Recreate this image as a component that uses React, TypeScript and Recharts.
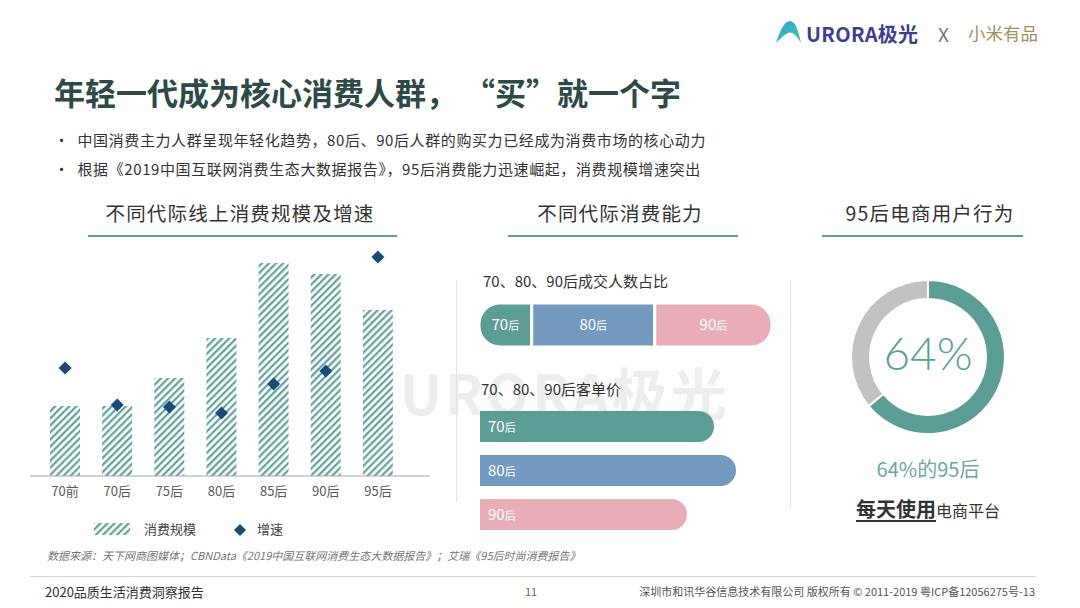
import React from 'react';
import {
  ComposedChart,
  Bar,
  Scatter,
  XAxis,
  YAxis,
  BarChart,
  Cell,
  LabelList,
  PieChart,
  Pie,
} from 'recharts';

// 线上消费规模及增速（按代际）
const generations = ['70前', '70后', '75后', '80后', '85后', '90后', '95后'];
const scaleValues = [70, 70, 98, 138, 213, 202, 166];
const growthValues = [108, 71, 69, 63, 92, 105, 219];

// 成交人数占比
const dealShare70 = [18];
const dealShare80 = [42];
const dealShare90 = [40];

// 客单价
const priceGroups = ['70', '80', '90'];
const priceValues = [234, 256, 207];

// 95后每天使用电商平台
const dailyUseLabels = ['每天使用', '其他'];
const dailyUseValues = [64, 36];

const TEAL = '#5c9e96';
const BLUE = '#7399bf';
const PINK = '#e8adb6';
const NAVY = '#1b4a78';
const FONT = '"Noto Sans CJK SC", "Noto Sans", sans-serif';

const genData = generations.map((g, i) => ({ name: g, scale: scaleValues[i], speed: growthValues[i] }));
const dealData = [{ name: 'share', a: dealShare70[0], b: dealShare80[0], c: dealShare90[0] }];
const priceData = priceGroups.map((g, i) => ({ name: g, value: priceValues[i] }));
const priceColors = [TEAL, BLUE, PINK];
const pieData = dailyUseLabels.map((l, i) => ({ name: l, value: dailyUseValues[i] }));

function Diamond(props: any) {
  const { cx, cy } = props;
  const s = 6.5;
  return <polygon points={`${cx},${cy - s} ${cx + s},${cy} ${cx},${cy + s} ${cx - s},${cy}`} fill={NAVY} />;
}

// "70后" style label, big number and small 后
function GenLabel(props: any, text: string, align: 'middle' | 'start') {
  const { x, y, width, height } = props;
  const tx = align === 'middle' ? x + width / 2 : x + 8;
  return (
    <text x={tx} y={y + height / 2} dy={5} textAnchor={align} fill="#fff" fontFamily={FONT}>
      <tspan fontSize={15}>{text}</tspan>
      <tspan fontSize={11}>后</tspan>
    </text>
  );
}

function SectionTitle({ text, cx, lineLeft, lineRight }: { text: string; cx: number; lineLeft: number; lineRight: number }) {
  return (
    <>
      <div style={{ position: 'absolute', left: cx - 200, width: 400, top: 198, textAlign: 'center', fontSize: 19.5, color: '#333', letterSpacing: 1.2 }}>
        {text}
      </div>
      <div style={{ position: 'absolute', left: lineLeft, width: lineRight - lineLeft, top: 235, height: 2, background: '#5f9f98' }} />
    </>
  );
}

export default function App() {
  return (
    <div style={{ position: 'absolute', left: 0, top: 0, width: 1080, height: 608, background: '#fff', fontFamily: FONT, overflow: 'hidden' }}>
      {/* header logos */}
      <svg style={{ position: 'absolute', left: 774, top: 19 }} width={28} height={26}>
        <defs>
          <linearGradient id="logoGrad" x1="0" y1="0" x2="1" y2="1">
            <stop offset="0%" stopColor="#3aa6e0" />
            <stop offset="100%" stopColor="#3cc6a0" />
          </linearGradient>
        </defs>
        <path d="M2 24 C6 12 10 2 16 2 C22 2 25 14 27 24 C22 16 18 12 14 14 C10 16 6 20 2 24 Z" fill="url(#logoGrad)" />
      </svg>
      <div style={{ position: 'absolute', left: 806, top: 19, fontSize: 20, fontWeight: 700, color: '#3d3f8e', letterSpacing: 0.3 }}>URORA极光</div>
      <div style={{ position: 'absolute', left: 938, top: 20, fontSize: 19, color: '#777' }}>X</div>
      <div style={{ position: 'absolute', left: 968, top: 20, fontSize: 17.5, color: '#a58e63' }}>小米有品</div>

      {/* title + bullets */}
      <div style={{ position: 'absolute', left: 54, top: 69, fontSize: 31, fontWeight: 700, color: '#2e4a47', letterSpacing: 0 }}>
        年轻一代成为核心消费人群， “买”就一个字
      </div>
      <div style={{ position: 'absolute', left: 54, top: 125, fontSize: 15, color: '#333', lineHeight: '29px', letterSpacing: 0.6 }}>
        <div>•&nbsp;&nbsp;中国消费主力人群呈现年轻化趋势，80后、90后人群的购买力已经成为消费市场的核心动力</div>
        <div>•&nbsp;&nbsp;根据《2019中国互联网消费生态大数据报告》，95后消费能力迅速崛起，消费规模增速突出</div>
      </div>

      <SectionTitle text="不同代际线上消费规模及增速" cx={240} lineLeft={88} lineRight={397} />
      <SectionTitle text="不同代际消费能力" cx={620} lineLeft={508} lineRight={738} />
      <SectionTitle text="95后电商用户行为" cx={930} lineLeft={822} lineRight={1023} />

      {/* watermark */}
      <div style={{ position: 'absolute', left: 400, top: 350, fontSize: 56, fontWeight: 700, color: '#eeeeee', letterSpacing: 3 }}>
        URORA极光
      </div>

      {/* separators */}
      <div style={{ position: 'absolute', left: 456, top: 280, width: 1, height: 222, background: '#e3e3e3' }} />
      <div style={{ position: 'absolute', left: 790, top: 280, width: 1, height: 228, background: '#e3e3e3' }} />

      {/* left chart */}
      <div style={{ position: 'absolute', left: 30, top: 246 }}>
        <ComposedChart width={400} height={262} data={genData} margin={{ top: 0, right: 0, left: 0, bottom: 0 }}>
          <defs>
            <pattern id="hatch" width="5" height="5" patternUnits="userSpaceOnUse" patternTransform="rotate(45)">
              <rect width="5" height="5" fill="#fff" />
              <line x1="1.2" y1="0" x2="1.2" y2="5" stroke="#5f9f97" strokeWidth="2.2" />
            </pattern>
          </defs>
          <XAxis
            dataKey="name"
            height={32}
            padding={{ left: 9, right: 26 }}
            tickLine={false}
            tickMargin={5}
            axisLine={{ stroke: '#a8a8a8' }}
            tick={{ fill: '#5a5a5a', fontSize: 13, fontFamily: FONT }}
            interval={0}
          />
          <YAxis hide domain={[0, 230]} />
          <Bar dataKey="scale" barSize={30} fill="url(#hatch)" isAnimationActive={false} />
          <Scatter dataKey="speed" shape={Diamond} isAnimationActive={false} />
        </ComposedChart>
      </div>
      {/* left legend */}
      <svg style={{ position: 'absolute', left: 94, top: 521 }} width={40} height={16}>
        <rect x={0} y={2} width={36} height={12} fill="url(#hatch)" />
      </svg>
      <div style={{ position: 'absolute', left: 144, top: 519, fontSize: 13, color: '#444' }}>消费规模</div>
      <svg style={{ position: 'absolute', left: 232, top: 522 }} width={16} height={16}>
        <polygon points="8,2 14,8 8,14 2,8" fill={NAVY} />
      </svg>
      <div style={{ position: 'absolute', left: 257, top: 519, fontSize: 13, color: '#444' }}>增速</div>

      {/* middle: deal share */}
      <div style={{ position: 'absolute', left: 483, top: 270, fontSize: 15, color: '#333' }}>70、80、90后成交人数占比</div>
      <div style={{ position: 'absolute', left: 479, top: 303 }}>
        <BarChart width={293} height={44} layout="vertical" data={dealData} margin={{ top: 0, right: 0, left: 0, bottom: 0 }} barCategoryGap={0}>
          <XAxis type="number" hide domain={[0, 100]} />
          <YAxis type="category" dataKey="name" hide />
          <Bar dataKey="a" stackId="s" fill={TEAL} stroke="#fff" strokeWidth={3} radius={[21, 0, 0, 21]} isAnimationActive={false}>
            <LabelList dataKey="a" content={(p: any) => GenLabel(p, '70', 'middle')} />
          </Bar>
          <Bar dataKey="b" stackId="s" fill={BLUE} stroke="#fff" strokeWidth={3} isAnimationActive={false}>
            <LabelList dataKey="b" content={(p: any) => GenLabel(p, '80', 'middle')} />
          </Bar>
          <Bar dataKey="c" stackId="s" fill={PINK} stroke="#fff" strokeWidth={3} radius={[0, 21, 21, 0]} isAnimationActive={false}>
            <LabelList dataKey="c" content={(p: any) => GenLabel(p, '90', 'middle')} />
          </Bar>
        </BarChart>
      </div>

      {/* middle: unit price */}
      <div style={{ position: 'absolute', left: 481, top: 378, fontSize: 15, color: '#333' }}>70、80、90后客单价</div>
      <div style={{ position: 'absolute', left: 480, top: 404 }}>
        <BarChart width={300} height={132} layout="vertical" data={priceData} margin={{ top: 0, right: 0, left: 0, bottom: 0 }}>
          <XAxis type="number" hide domain={[0, 300]} />
          <YAxis type="category" dataKey="name" hide />
          <Bar dataKey="value" barSize={31} radius={[0, 16, 16, 0]} isAnimationActive={false}>
            {priceData.map((d, i) => (
              <Cell key={d.name} fill={priceColors[i]} />
            ))}
            <LabelList dataKey="name" content={(p: any) => GenLabel(p, p.value, 'start')} />
          </Bar>
        </BarChart>
      </div>

      {/* right: donut */}
      <div style={{ position: 'absolute', left: 828, top: 257 }}>
        <PieChart width={200} height={200} margin={{ top: 0, right: 0, left: 0, bottom: 0 }}>
          <Pie
            data={pieData}
            dataKey="value"
            cx={100}
            cy={100}
            innerRadius={58}
            outerRadius={77}
            startAngle={90}
            endAngle={-270}
            stroke="#fff"
            strokeWidth={2}
            isAnimationActive={false}
          >
            <Cell fill={TEAL} />
            <Cell fill="#c2c2c2" />
          </Pie>
        </PieChart>
      </div>
      <div style={{ position: 'absolute', left: 828, width: 200, top: 325, textAlign: 'center', fontSize: 46, color: TEAL, fontWeight: 300, fontFamily: 'Lato, "Noto Sans", sans-serif' }}>
        64%
      </div>
      <div style={{ position: 'absolute', left: 828, width: 200, top: 454, textAlign: 'center', fontSize: 20, color: '#6aa8a0' }}>
        64%的95后
      </div>
      <div style={{ position: 'absolute', left: 828, width: 200, top: 494, textAlign: 'center', color: '#333', whiteSpace: 'nowrap' }}>
        <span style={{ fontSize: 20, fontWeight: 700, textDecoration: 'underline', textUnderlineOffset: 3 }}>每天使用</span>
        <span style={{ fontSize: 16 }}>电商平台</span>
      </div>

      {/* footer */}
      <div style={{ position: 'absolute', left: 47, top: 547, fontSize: 11, color: '#777', fontStyle: 'italic' }}>
        数据来源：天下网商图媒体；CBNData《2019中国互联网消费生态大数据报告》；艾瑞《95后时尚消费报告》
      </div>
      <div style={{ position: 'absolute', left: 30, top: 576, width: 1006, height: 1, background: '#d6d6d6' }} />
      <div style={{ position: 'absolute', left: 45, top: 582, fontSize: 13, color: '#333' }}>2020品质生活消费洞察报告</div>
      <div style={{ position: 'absolute', left: 525, top: 583, fontSize: 11, color: '#666' }}>11</div>
      <div style={{ position: 'absolute', right: 45, top: 583, fontSize: 11, color: '#555' }}>
        深圳市和讯华谷信息技术有限公司 版权所有 © 2011-2019 粤ICP备12056275号-13
      </div>
    </div>
  );
}
